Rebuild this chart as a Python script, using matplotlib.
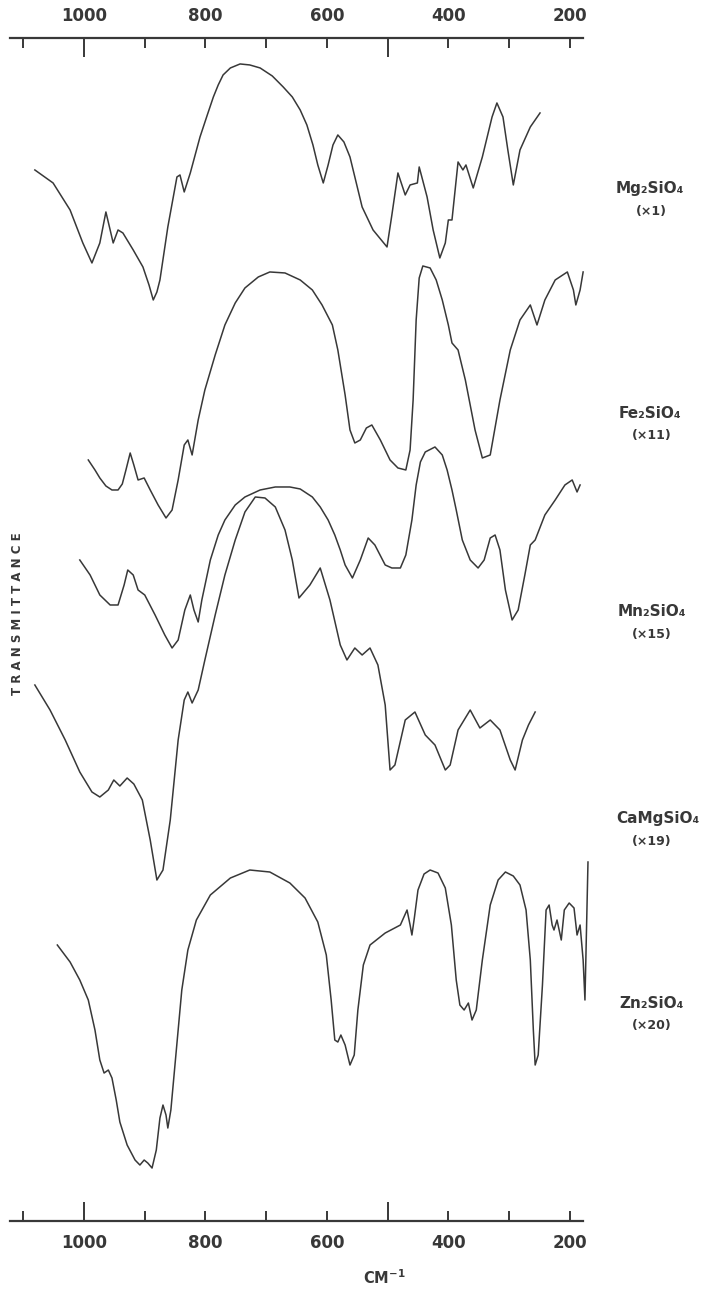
import matplotlib
matplotlib.use("Agg")
import matplotlib.pyplot as plt

plt.rcParams["font.family"] = ["DejaVu Sans"]
plt.rcParams["font.weight"] = "bold"

# wavenumbers (cm-1) and transmittance (arbitrary units, spectra stacked)
mg_w = [1081, 1051, 1023, 1002, 987, 974, 964, 957, 952, 944, 936, 919, 903, 893,
        886, 880, 875, 862, 847, 842, 835, 825, 809, 797, 787, 779, 771, 759, 743,
        727, 710, 690, 672, 657, 644, 633, 623, 615, 606, 598, 590, 582, 572, 562,
        552, 542, 524, 501, 493, 483, 471, 463, 451, 448, 435, 425, 414, 405, 400,
        394, 384, 376, 371, 359, 344, 328, 320, 310, 302, 293, 282, 265, 249]
mg_t = [1051, 1038, 1011, 978, 958, 978, 1009, 991, 978, 991, 988, 971, 954, 936,
        921, 929, 941, 994, 1044, 1046, 1029, 1048, 1084, 1106, 1124, 1136, 1146,
        1153, 1157, 1156, 1153, 1145, 1134, 1124, 1111, 1096, 1076, 1056, 1038,
        1056, 1076, 1086, 1079, 1064, 1039, 1014, 991, 974, 1006, 1048, 1026, 1036,
        1038, 1054, 1024, 991, 963, 978, 1001, 1001, 1059, 1051, 1056, 1033, 1064,
        1104, 1118, 1104, 1071, 1036, 1071, 1094, 1108]

fe_w = [993, 982, 974, 964, 954, 944, 937, 931, 924, 918, 911, 901, 891, 878, 865,
        855, 845, 835, 829, 822, 812, 801, 784, 768, 751, 735, 713, 694, 669, 644,
        624, 608, 591, 582, 570, 562, 554, 545, 535, 526, 512, 496, 483, 470, 463,
        458, 453, 448, 442, 430, 420, 410, 400, 394, 384, 372, 356, 344, 331, 315,
        298, 282, 265, 254, 241, 224, 204, 194, 190, 183, 178]
fe_t = [761, 751, 743, 735, 731, 731, 737, 751, 768, 756, 741, 743, 731, 716, 703,
        711, 741, 776, 781, 766, 801, 831, 866, 896, 918, 933, 944, 949, 948, 941,
        931, 916, 896, 871, 826, 791, 778, 781, 793, 796, 781, 761, 753, 751, 771,
        821, 901, 943, 955, 953, 941, 921, 896, 878, 871, 841, 791, 763, 766, 821,
        871, 901, 916, 896, 921, 941, 949, 931, 916, 931, 949]

mn_w = [1007, 990, 974, 957, 944, 934, 928, 919, 911, 900, 883, 867, 855, 845, 834,
        825, 819, 812, 806, 792, 779, 768, 751, 735, 710, 685, 661, 644, 624, 611,
        598, 587, 578, 570, 558, 545, 532, 521, 504, 493, 479, 470, 460, 453, 446,
        438, 422, 410, 402, 394, 387, 377, 364, 351, 341, 331, 323, 315, 306, 295,
        285, 274, 265, 257, 241, 224, 208, 196, 188, 183]
mn_t = [661, 646, 626, 616, 616, 636, 651, 646, 631, 626, 606, 586, 573, 581, 611,
        626, 611, 599, 621, 661, 686, 701, 716, 724, 731, 734, 734, 732, 724, 714,
        701, 686, 671, 656, 643, 661, 683, 676, 656, 653, 653, 666, 701, 736, 759,
        769, 774, 766, 751, 731, 711, 681, 661, 653, 661, 683, 686, 671, 631, 601,
        611, 646, 676, 681, 706, 721, 736, 741, 729, 736]

ca_w = [1081, 1056, 1031, 1007, 987, 974, 960, 951, 941, 929, 918, 904, 891, 880,
        870, 858, 845, 835, 829, 822, 812, 801, 784, 768, 751, 735, 718, 702, 685,
        669, 657, 646, 628, 611, 595, 578, 567, 554, 542, 529, 516, 504, 496, 488,
        471, 455, 438, 422, 405, 397, 384, 364, 348, 331, 315, 298, 290, 278, 268,
        257]
ca_t = [536, 511, 481, 449, 429, 424, 431, 441, 435, 443, 437, 421, 381, 341, 351,
        401, 481, 521, 529, 518, 531, 561, 606, 646, 681, 709, 724, 723, 714, 691,
        661, 623, 636, 653, 621, 576, 561, 573, 566, 573, 556, 516, 451, 456, 501,
        509, 486, 476, 451, 456, 491, 511, 493, 501, 491, 461, 451, 481, 496, 509]

zn_w = [1044, 1023, 1007, 993, 982, 974, 967, 960, 954, 947, 941, 929, 916, 908,
        901, 895, 888, 881, 875, 870, 865, 862, 857, 848, 839, 829, 815, 792, 759,
        727, 694, 661, 636, 615, 601, 593, 587, 582, 577, 570, 562, 555, 549, 540,
        529, 504, 479, 468, 463, 460, 456, 450, 440, 430, 417, 405, 395, 387, 381,
        374, 367, 361, 354, 344, 331, 318, 306, 293, 282, 272, 265, 260, 257, 252,
        245, 239, 234, 229, 226, 221, 214, 209, 201, 193, 188, 183, 178, 175, 170]
zn_t = [276, 259, 241, 221, 191, 161, 148, 151, 143, 121, 99, 76, 61, 56, 61, 58,
        53, 71, 103, 116, 106, 93, 111, 171, 231, 271, 301, 326, 343, 351, 349, 338,
        323, 299, 266, 221, 181, 179, 186, 176, 156, 166, 211, 256, 276, 288, 296,
        311, 296, 286, 303, 331, 347, 351, 348, 333, 296, 241, 216, 211, 218, 201,
        211, 261, 316, 341, 349, 345, 336, 311, 261, 191, 156, 166, 236, 311, 316,
        296, 291, 301, 281, 311, 318, 313, 286, 296, 261, 221, 359]

spectra = [
    ("Mg\u2082SiO\u2084", "(\u00d71)", mg_w, mg_t),
    ("Fe\u2082SiO\u2084", "(\u00d711)", fe_w, fe_t),
    ("Mn\u2082SiO\u2084", "(\u00d715)", mn_w, mn_t),
    ("CaMgSiO\u2084", "(\u00d719)", ca_w, ca_t),
    ("Zn\u2082SiO\u2084", "(\u00d720)", zn_w, zn_t),
]
# vertical position of the name labels (fraction of figure height)
label_y = [0.854, 0.680, 0.526, 0.366, 0.223]
label_x = [0.913, 0.913, 0.915, 0.924, 0.915]

ticks = list(range(1100, 100, -100))
ink = "#383838"

fig = plt.figure(figsize=(7.12, 12.91), dpi=100)
ax = fig.add_axes([0.014, 0.0542, 0.805, 0.9164])

for (name, scale, w, t), lx, ly in zip(spectra, label_x, label_y):
    ax.plot(w, t, color=ink, lw=1.1, clip_on=False, solid_joinstyle="round")
    fig.text(lx, ly, name, ha="center", va="center", fontsize=11, color=ink)
    fig.text(0.915, ly - 0.0175, scale, ha="center", va="center", fontsize=9,
             color=ink)

ax.set_xlim(1122, 178)
ax.set_ylim(0, 1183)
ax.set_yticks([])
for side in ("left", "right"):
    ax.spines[side].set_visible(False)
for side in ("top", "bottom"):
    ax.spines[side].set_linewidth(1.6)
    ax.spines[side].set_color(ink)

ax.set_xticks(ticks)
ax.set_xticklabels([str(v) if v % 200 == 0 else "" for v in ticks])
ax.tick_params(axis="x", direction="in", top=True, bottom=True, labeltop=True,
               labelbottom=True, length=7, width=1.4, color=ink, pad=9,
               labelsize=12, labelcolor=ink)
for tick, v in zip(ax.xaxis.get_major_ticks(), ticks):
    if v in (1000, 500):
        tick.tick1line.set_markersize(14)
        tick.tick2line.set_markersize(14)

fig.text(0.025, 0.525, "T R A N S M I T T A N C E", rotation=90, ha="center",
         va="center", fontsize=8.5, color=ink)
fig.text(0.54, 0.003, "CM$^{\\mathbf{-1}}$", ha="center", va="bottom",
         fontsize=10.5, color=ink)

fig.savefig("out.png", dpi=100)
